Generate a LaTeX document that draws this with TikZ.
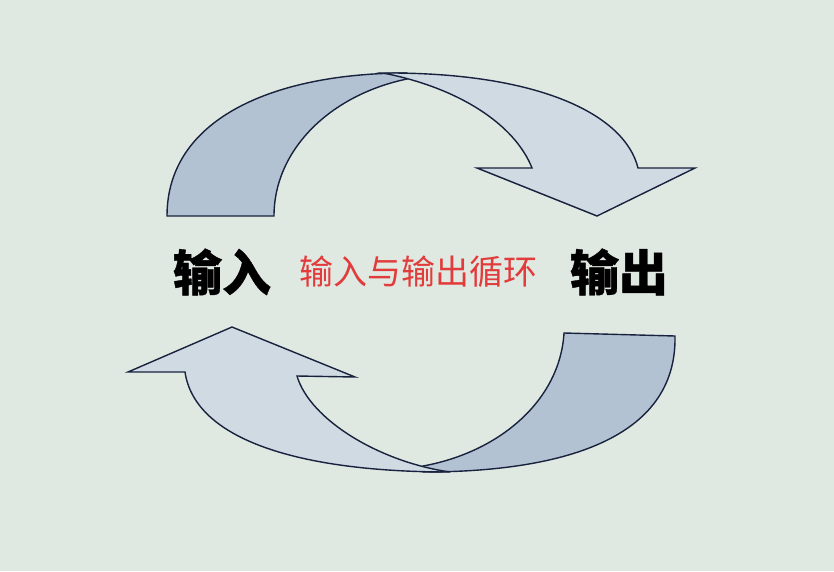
\documentclass[tikz,border=0pt]{standalone}
\usepackage{fontspec}
\newfontfamily\cjk{Noto Sans CJK SC}[BoldFeatures={FakeBold=0.8}]
\usepackage{tikz}

\definecolor{bgcol}{HTML}{E0E9E1}
\definecolor{backband}{HTML}{B3C2D3}
\definecolor{frontband}{HTML}{CFDAE3}
\definecolor{edgecol}{HTML}{18213D}
\definecolor{loopred}{HTML}{E23B3B}

\begin{document}
\begin{tikzpicture}[
  x=1pt, y=-1pt,
  band/.style={draw=edgecol, line width=1.4pt, line join=miter},
  back/.style={band, fill=backband},
  front/.style={band, fill=frontband},
  bigword/.style={font=\cjk\bfseries\fontsize{49}{49}\selectfont, text=black, inner sep=0pt},
  midword/.style={font=\cjk\fontsize{34}{34}\selectfont, text=loopred, inner sep=0pt}
]
\fill[bgcol] (0,0) rectangle (834,571);
\useasboundingbox (0,0) rectangle (834,571);

% upper arrow: back side of the ribbon
\draw[back] (167,216) .. controls (167,118) and (275,73) .. (407,73)
  -- (407,79) .. controls (330,95) and (274,150) .. (274,216) -- cycle;
% upper arrow: front side with head
\draw[front] (383,73) .. controls (540,72) and (625,115) .. (638,168)
  -- (695,168) -- (597,216) -- (477,168) -- (532,168)
  .. controls (515,125) and (460,88) .. (383,73) -- cycle;

% lower arrow: back side of the ribbon
\draw[back] (564,333) -- (675,336) .. controls (677,440) and (560,472) .. (423,472)
  -- (423,466) .. controls (500,452) and (560,400) .. (564,333) -- cycle;
% lower arrow: front side with head
\draw[front] (450,472) .. controls (300,472) and (195,440) .. (185,372)
  -- (128,372) -- (232,327) -- (355,377) -- (297,376)
  .. controls (310,420) and (380,462) .. (450,472) -- cycle;

% labels
\node[bigword] (input) at (222,272) {输入};
\node[bigword] (output) at (619,272) {输出};
\node[midword] (cycle) at (418,272) {输入与输出循环};
\end{tikzpicture}
\end{document}
